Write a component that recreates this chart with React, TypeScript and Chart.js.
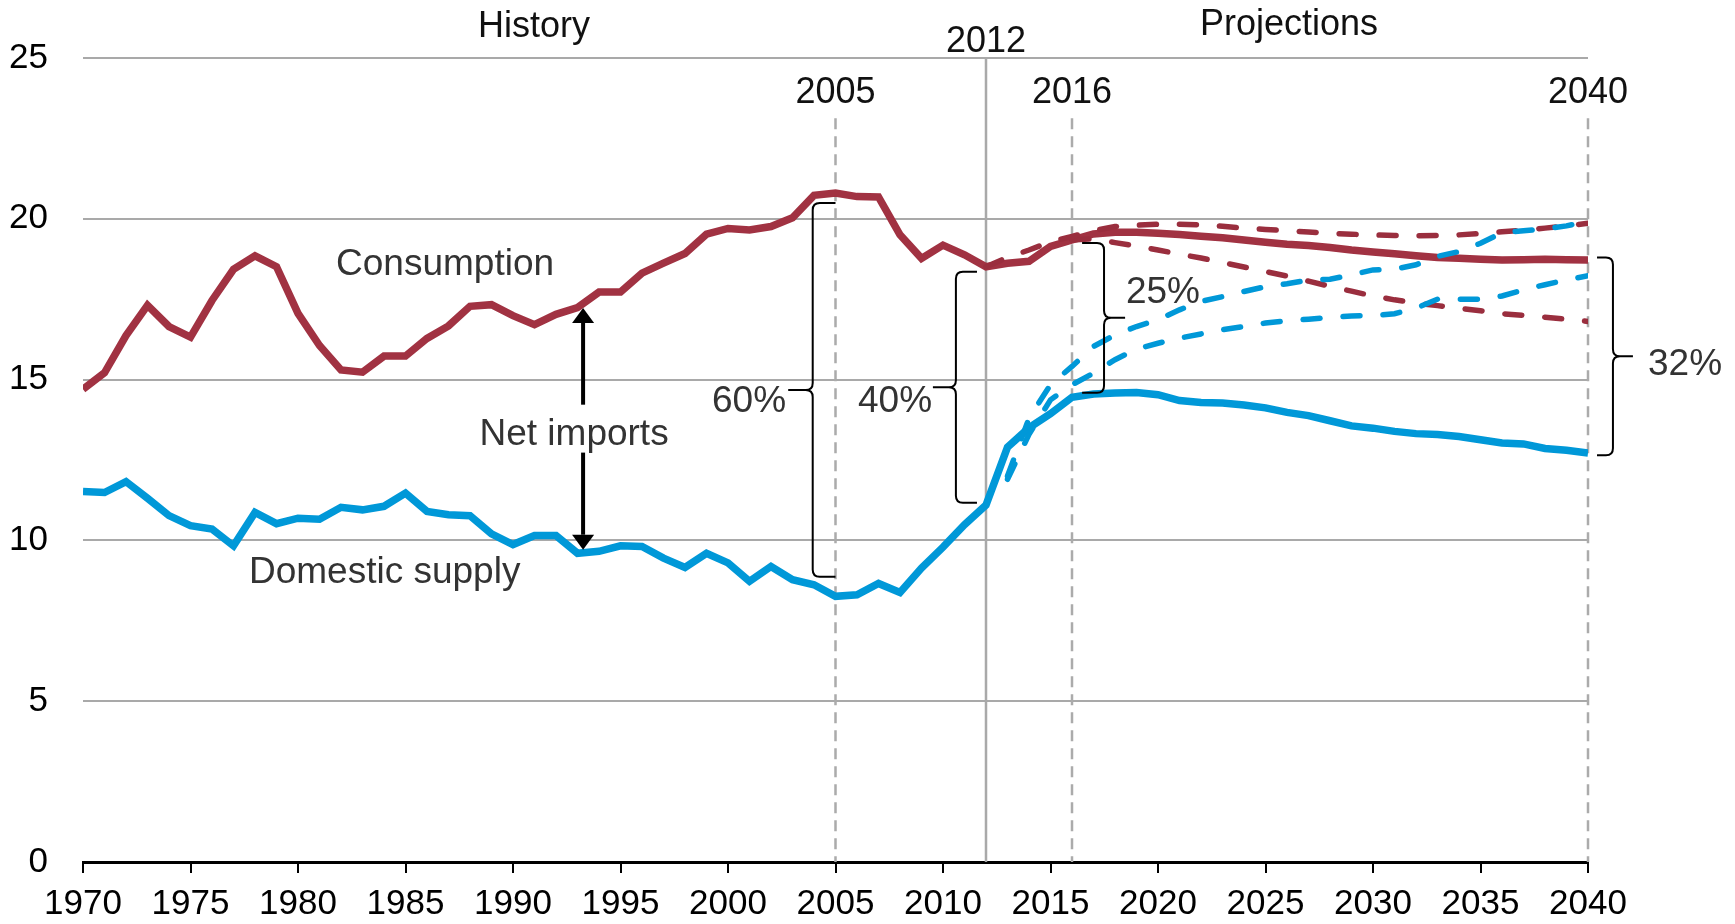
import React, { useEffect, useRef } from 'react';
import { Chart, registerables } from 'chart.js';

Chart.register(...registerables);

// ---------- data ----------
const years = [
  1970, 1971, 1972, 1973, 1974, 1975, 1976, 1977, 1978, 1979,
  1980, 1981, 1982, 1983, 1984, 1985, 1986, 1987, 1988, 1989,
  1990, 1991, 1992, 1993, 1994, 1995, 1996, 1997, 1998, 1999,
  2000, 2001, 2002, 2003, 2004, 2005, 2006, 2007, 2008, 2009,
  2010, 2011, 2012, 2013, 2014, 2015, 2016, 2017, 2018, 2019,
  2020, 2021, 2022, 2023, 2024, 2025, 2026, 2027, 2028, 2029,
  2030, 2031, 2032, 2033, 2034, 2035, 2036, 2037, 2038, 2039, 2040,
];

const consumption = [
  14.70, 15.21, 16.37, 17.31, 16.65, 16.32, 17.46, 18.43, 18.85, 18.51,
  17.06, 16.06, 15.30, 15.23, 15.73, 15.73, 16.28, 16.67, 17.28, 17.33,
  16.99, 16.71, 17.03, 17.24, 17.72, 17.72, 18.31, 18.62, 18.92, 19.52,
  19.70, 19.65, 19.76, 20.03, 20.73, 20.80, 20.69, 20.68, 19.50, 18.77,
  19.18, 18.88, 18.51, 18.62, 18.68, 19.14, 19.34, 19.53, 19.58, 19.58,
  19.55, 19.51, 19.46, 19.41, 19.34, 19.27, 19.21, 19.17, 19.11, 19.03,
  18.97, 18.91, 18.85, 18.80, 18.77, 18.74, 18.72, 18.73, 18.74, 18.73, 18.72,
];

const domesticSupply = [
  11.52, 11.49, 11.83, 11.31, 10.77, 10.46, 10.35, 9.83, 10.87, 10.52,
  10.69, 10.66, 11.03, 10.95, 11.06, 11.47, 10.90, 10.80, 10.77, 10.20,
  9.87, 10.15, 10.15, 9.60, 9.66, 9.83, 9.81, 9.45, 9.16, 9.60,
  9.30, 8.73, 9.19, 8.78, 8.62, 8.26, 8.31, 8.66, 8.38, 9.14,
  9.79, 10.49, 11.10, 12.90, 13.50, 13.94, 14.45, 14.55, 14.58, 14.60,
  14.53, 14.35, 14.29, 14.27, 14.21, 14.12, 13.98, 13.88, 13.72, 13.56,
  13.49, 13.39, 13.32, 13.29, 13.23, 13.13, 13.03, 13.00, 12.86, 12.80, 12.72,
];

const projYears = [
  2012, 2013, 2014, 2015, 2016, 2017, 2018, 2019, 2020, 2021,
  2022, 2023, 2024, 2025, 2026, 2027, 2028, 2029, 2030, 2031,
  2032, 2033, 2034, 2035, 2036, 2037, 2038, 2039, 2040,
];

const consumptionHigh = [
  18.51, 18.80, 19.03, 19.29, 19.45, 19.63, 19.76, 19.80, 19.83, 19.83,
  19.81, 19.77, 19.71, 19.67, 19.63, 19.59, 19.55, 19.52, 19.50, 19.48,
  19.47, 19.48, 19.50, 19.54, 19.60, 19.64, 19.71, 19.78, 19.86,
];

const consumptionLow = [
  null, null, null, null, 19.34, 19.38, 19.26, 19.15, 19.03, 18.90,
  18.78, 18.64, 18.50, 18.36, 18.22, 18.06, 17.90, 17.75, 17.60, 17.48,
  17.38, 17.30, 17.22, 17.14, 17.05, 17.00, 16.94, 16.88, 16.81,
];

const supplyHigh = [
  null, 12.00, 13.80, 14.84, 15.41, 16.03, 16.39, 16.65, 16.86, 17.17,
  17.43, 17.58, 17.74, 17.89, 17.98, 18.10, 18.12, 18.26, 18.41, 18.43,
  18.57, 18.83, 18.98, 19.24, 19.57, 19.63, 19.68, 19.78, 19.93,
];

const supplyLow = [
  null, 11.90, 13.30, 14.37, 14.84, 15.20, 15.62, 15.95, 16.13, 16.29,
  16.42, 16.55, 16.65, 16.76, 16.83, 16.88, 16.93, 16.98, 16.99, 17.05,
  17.22, 17.50, 17.50, 17.50, 17.60, 17.79, 17.95, 18.10, 18.23,
];

// annotation anchors (data units)
const markerYears = [2005, 2016, 2040];
const markerLabelValue = 23.6;
const markerTopValue = 23.13;
const divideYear = 2012;

const brackets = [
  { label: '60%', line: 2003.94, hook: 2005.0, tip: 2002.8, top: 20.49, bottom: 8.87, textAt: 2002.7, textY: 14.0, side: 'right' },
  { label: '40%', line: 2010.6, hook: 2011.58, tip: 2009.53, top: 18.35, bottom: 11.17, textAt: 2009.49, textY: 14.0, side: 'right' },
  { label: '25%', line: 2017.49, hook: 2016.47, tip: 2018.47, top: 19.25, bottom: 14.59, textAt: 2018.51, textY: 17.39, side: 'left' },
  { label: '32%', line: 2041.16, hook: 2040.42, tip: 2042.09, top: 18.8, bottom: 12.65, textAt: 2042.79, textY: 15.15, side: 'left' },
];

const FONT = "'Liberation Sans', Arial, Helvetica, sans-serif";
const RED = '#a13242';
const RED_DASH = '#9a2e3e';
const BLUE = '#0098d8';
const GRID = '#a9a9a9';

const annotationPlugin = {
  id: 'eiaAnnotations',
  beforeDatasetsDraw(chart: any) {
    const { ctx, scales } = chart;
    const xs = scales.x;
    const ys = scales.y;
    ctx.save();
    // solid divider at 2012
    ctx.strokeStyle = GRID;
    ctx.lineWidth = 2.5;
    ctx.setLineDash([]);
    ctx.beginPath();
    const dx = xs.getPixelForValue(divideYear);
    ctx.moveTo(dx, ys.getPixelForValue(25));
    ctx.lineTo(dx, ys.getPixelForValue(0));
    ctx.stroke();
    // dashed markers
    ctx.strokeStyle = '#ababab';
    ctx.lineWidth = 2.5;
    ctx.setLineDash([11, 7]);
    for (const yr of markerYears) {
      const x = xs.getPixelForValue(yr);
      ctx.beginPath();
      ctx.moveTo(x, ys.getPixelForValue(markerTopValue));
      ctx.lineTo(x, ys.getPixelForValue(0));
      ctx.stroke();
    }
    ctx.restore();
  },
  afterDatasetsDraw(chart: any) {
    const { ctx, scales } = chart;
    const xs = scales.x;
    const ys = scales.y;
    const X = (v: number) => xs.getPixelForValue(v);
    const Y = (v: number) => ys.getPixelForValue(v);
    ctx.save();
    ctx.setLineDash([]);

    // braces
    ctx.strokeStyle = '#000';
    ctx.lineWidth = 2;
    const r = 7;
    for (const b of brackets) {
      const xl = X(b.line);
      const xh = X(b.hook);
      const xt = X(b.tip);
      const yt = Y(b.top);
      const yb = Y(b.bottom);
      const ym = (yt + yb) / 2;
      const s = Math.sign(xh - xl);
      const t = Math.sign(xt - xl);
      ctx.beginPath();
      ctx.moveTo(xh, yt);
      ctx.lineTo(xl + s * r, yt);
      ctx.quadraticCurveTo(xl, yt, xl, yt + r);
      ctx.lineTo(xl, ym - r);
      ctx.quadraticCurveTo(xl, ym, xl + t * r, ym);
      ctx.lineTo(xt, ym);
      ctx.moveTo(xl + t * r, ym);
      ctx.quadraticCurveTo(xl, ym, xl, ym + r);
      ctx.lineTo(xl, yb - r);
      ctx.quadraticCurveTo(xl, yb, xl + s * r, yb);
      ctx.lineTo(xh, yb);
      ctx.stroke();
      ctx.font = `37px ${FONT}`;
      ctx.fillStyle = '#333333';
      ctx.textBaseline = 'alphabetic';
      ctx.textAlign = b.side as CanvasTextAlign;
      ctx.fillText(b.label, X(b.textAt), Y(b.textY));
    }

    // net imports arrows
    const ax = X(1993.26);
    const drawArrow = (fromV: number, toV: number) => {
      const y0 = Y(fromV);
      const y1 = Y(toV);
      const dir = Math.sign(y1 - y0);
      const headLen = 15;
      const halfW = 11;
      ctx.strokeStyle = '#000';
      ctx.lineWidth = 4;
      ctx.beginPath();
      ctx.moveTo(ax, y0);
      ctx.lineTo(ax, y1 - dir * headLen);
      ctx.stroke();
      ctx.fillStyle = '#000';
      ctx.beginPath();
      ctx.moveTo(ax, y1);
      ctx.lineTo(ax - halfW, y1 - dir * headLen);
      ctx.lineTo(ax + halfW, y1 - dir * headLen);
      ctx.closePath();
      ctx.fill();
    };
    drawArrow(14.22, 17.23);
    drawArrow(12.73, 9.71);

    // series labels
    ctx.font = `37px ${FONT}`;
    ctx.fillStyle = '#333333';
    ctx.textBaseline = 'alphabetic';
    ctx.textAlign = 'left';
    ctx.fillText('Consumption', X(1981.77), Y(18.26));
    ctx.fillText('Domestic supply', X(1977.72), Y(8.69));
    ctx.textAlign = 'center';
    ctx.fillText('Net imports', X(1992.84), Y(12.98));

    // header labels
    ctx.fillStyle = '#111111';
    ctx.font = `36px ${FONT}`;
    ctx.textAlign = 'center';
    ctx.fillText('History', X(1990.98), Y(25.65));
    ctx.fillText('Projections', X(2026.09), Y(25.71));
    ctx.fillText(String(divideYear), X(divideYear), Y(25.18));
    for (const yr of markerYears) {
      ctx.fillText(String(yr), X(yr), Y(markerLabelValue));
    }
    ctx.restore();
  },
};

const toPoints = (xsArr: number[], vals: (number | null)[]) =>
  xsArr.map((x, i) => ({ x, y: vals[i] }));

const dashed = (label: string, xsArr: number[], vals: (number | null)[], color: string, order: number) => ({
  label,
  data: toPoints(xsArr, vals),
  borderColor: color,
  borderWidth: 5.5,
  borderDash: [17, 23],
  borderCapStyle: 'round',
  pointRadius: 0,
  tension: 0,
  order,
});

export default function App() {
  const canvasRef = useRef<HTMLCanvasElement | null>(null);

  useEffect(() => {
    const canvas = canvasRef.current;
    if (!canvas) return;
    const chart = new Chart(canvas, {
      type: 'line',
      data: {
        datasets: [
          dashed('Domestic supply (high)', projYears, supplyHigh, BLUE, 1),
          dashed('Domestic supply (low)', projYears, supplyLow, BLUE, 2),
          dashed('Consumption (high)', projYears, consumptionHigh, RED_DASH, 3),
          dashed('Consumption (low)', projYears, consumptionLow, RED_DASH, 4),
          {
            label: 'Consumption',
            data: toPoints(years, consumption),
            borderColor: RED,
            borderWidth: 7.5,
            pointRadius: 0,
            tension: 0,
            order: 5,
          },
          {
            label: 'Domestic supply',
            data: toPoints(years, domesticSupply),
            borderColor: BLUE,
            borderWidth: 7.5,
            pointRadius: 0,
            tension: 0,
            order: 6,
          },
        ] as any,
      },
      options: {
        responsive: false,
        animation: false,
        devicePixelRatio: 1,
        layout: { padding: { top: 58, right: 147, left: 0, bottom: 0 } },
        plugins: {
          legend: { display: false },
          tooltip: { enabled: false },
          title: { display: false },
        },
        scales: {
          x: {
            type: 'linear',
            min: 1970,
            max: 2040,
            ticks: {
              stepSize: 5,
              autoSkip: false,
              maxRotation: 0,
              padding: 10,
              color: '#000',
              font: { family: FONT, size: 35 },
              callback: (v: any) => String(v),
            },
            grid: {
              display: true,
              drawOnChartArea: false,
              drawTicks: true,
              tickLength: 11,
              color: '#000',
              lineWidth: 2,
            },
            border: { display: true, color: '#000', width: 3 },
            afterFit: (s: any) => {
              s.height = 62;
            },
          },
          y: {
            min: 0,
            max: 25,
            ticks: {
              stepSize: 5,
              padding: 35,
              color: '#000',
              font: { family: FONT, size: 35 },
            },
            grid: {
              drawTicks: false,
              lineWidth: 2,
              color: (c: any) => (c.tick && c.tick.value === 0 ? 'rgba(0,0,0,0)' : GRID),
            },
            border: { display: false },
            afterFit: (s: any) => {
              s.width = 83;
            },
          },
        },
      } as any,
      plugins: [annotationPlugin],
    });
    return () => chart.destroy();
  }, []);

  return (
    <div style={{ position: 'absolute', left: 0, top: 0, width: 1735, height: 924, background: '#fff' }}>
      <canvas ref={canvasRef} width={1735} height={924} style={{ width: 1735, height: 924 }} />
    </div>
  );
}
